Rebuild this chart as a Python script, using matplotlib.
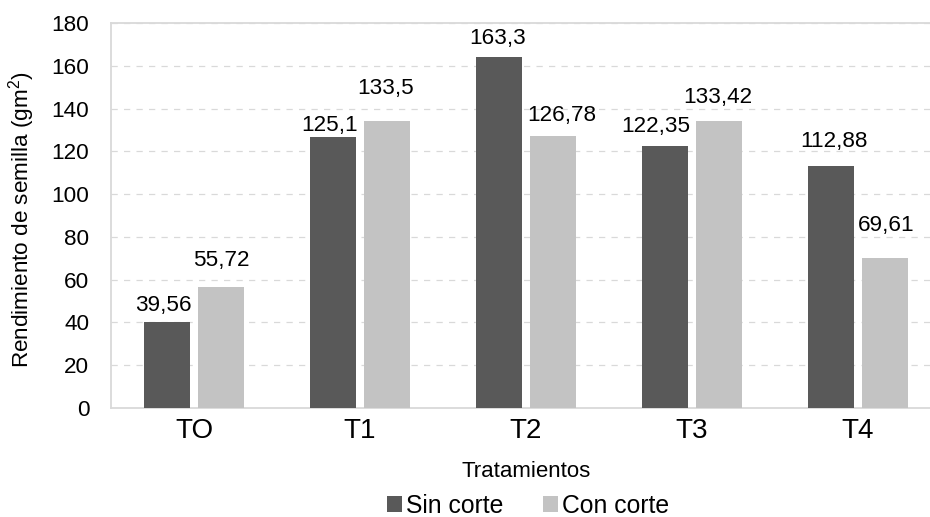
import matplotlib.pyplot as plt
import numpy as np

plt.rcParams['font.family'] = ['Liberation Sans', 'DejaVu Sans']
plt.rcParams['mathtext.fontset'] = 'custom'
plt.rcParams['mathtext.rm'] = 'Liberation Sans'
plt.rcParams['mathtext.default'] = 'rm'

tratamientos = ['TO', 'T1', 'T2', 'T3', 'T4']
sin_corte = [40.4, 126.8, 164.1, 122.4, 113.2]
con_corte = [56.6, 134.3, 127.0, 134.3, 70.2]
etiquetas_sin = ['39,56', '125,1', '163,3', '122,35', '112,88']
etiquetas_con = ['55,72', '133,5', '126,78', '133,42', '69,61']

# the data labels were dragged around by hand in the original (dx, dy in px)
off_sin = [(-4, 11), (-3, 6), (-1.5, 13), (-9.5, 14), (2.5, 19)]
off_con = [(0, 21), (-1, 27), (9, 15), (-1, 18), (1, 27)]

oscuro = '#595959'
claro = '#C3C3C3'
linea = '#D9D9D9'

fig = plt.figure(figsize=(9.3, 5.17), dpi=100)
ax = fig.add_axes([111 / 930, 1 - 408 / 517, 830 / 930, 385 / 517])

x = np.arange(len(tratamientos))
w = 46 / 166
sep = (46 + 8) / 166 / 2
b1 = ax.bar(x - sep, sin_corte, w, color=oscuro, label='Sin corte', zorder=3)
b2 = ax.bar(x + sep, con_corte, w, color=claro, label='Con corte', zorder=3)

px = 72 / 100
for bars, labs, offs in [(b1, etiquetas_sin, off_sin), (b2, etiquetas_con, off_con)]:
    for r, t, (dx, dy) in zip(bars, labs, offs):
        ax.annotate(t, (r.get_x() + r.get_width() / 2, r.get_height()),
                    xytext=(dx * px, dy * px), textcoords='offset points',
                    ha='center', va='baseline', fontsize=16.2, color='black')

ax.set_xlim(-0.5, 4.5)
ax.set_ylim(0, 180)
ax.set_yticks(np.arange(0, 181, 20))
ax.set_xticks(x)
ax.set_xticklabels(tratamientos, fontsize=20)
ax.tick_params(axis='y', length=0, pad=15.5, labelsize=16.2)
ax.tick_params(axis='x', length=0, pad=7.5)
ax.yaxis.grid(True, color=linea, linestyle=(0, (5, 5)), linewidth=0.9, zorder=0)
for s in ['top', 'left', 'bottom']:
    ax.spines[s].set_color(linea)
    ax.spines[s].set_linewidth(1.3)
ax.spines['right'].set_visible(False)

ax.set_ylabel('Rendimiento de semilla (gm$^2$)', fontsize=16.2)
ax.yaxis.set_label_coords(-0.089, 0.49)

fig.text(526 / 930, 1 - 477 / 517, 'Tratamientos', ha='center', va='baseline', fontsize=16)

fig.legend(handles=[b1, b2], loc='center', bbox_to_anchor=(528 / 930, 1 - 506 / 517),
           ncol=2, frameon=False, fontsize=17.8, handlelength=0.62, handleheight=0.62,
           handletextpad=0.15, columnspacing=1.6, borderpad=0, borderaxespad=0)

plt.savefig('out.png', dpi=100)
plt.close()
